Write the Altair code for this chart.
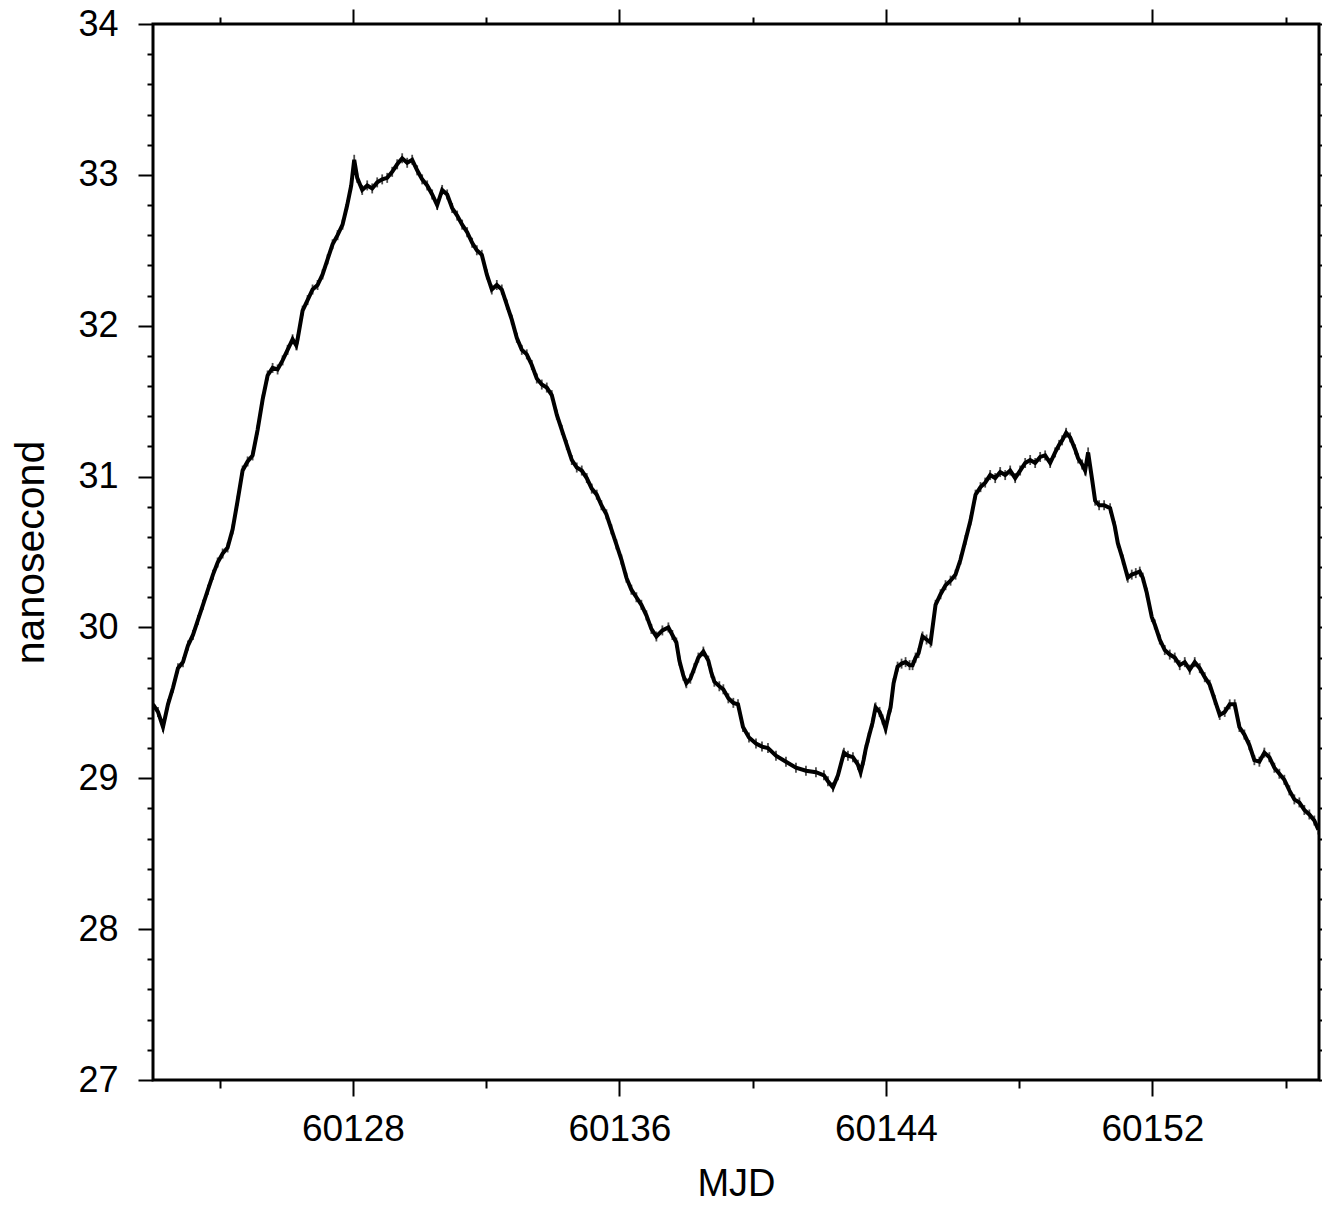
import altair as alt
import pandas as pd

mjd = [
    60122.00, 60122.15, 60122.30, 60122.45, 60122.60, 60122.75, 60122.90, 60123.05, 60123.20, 60123.35,
    60123.50, 60123.65, 60123.80, 60123.94, 60124.09, 60124.24, 60124.39, 60124.54, 60124.69, 60124.84,
    60124.99, 60125.14, 60125.29, 60125.44, 60125.59, 60125.74, 60125.89, 60126.04, 60126.19, 60126.30,
    60126.34, 60126.49, 60126.64, 60126.79, 60126.94, 60127.09, 60127.24, 60127.39, 60127.54, 60127.69,
    60127.83, 60127.95, 60128.04, 60128.13, 60128.28, 60128.43, 60128.58, 60128.73, 60128.88, 60129.03,
    60129.18, 60129.33, 60129.48, 60129.63, 60129.78, 60129.93, 60130.08, 60130.23, 60130.38, 60130.53,
    60130.68, 60130.83, 60130.98, 60131.13, 60131.28, 60131.43, 60131.58, 60131.72, 60131.87, 60132.02,
    60132.17, 60132.32, 60132.47, 60132.62, 60132.77, 60132.92, 60133.07, 60133.22, 60133.37, 60133.52,
    60133.67, 60133.82, 60133.97, 60134.12, 60134.27, 60134.42, 60134.57, 60134.72, 60134.87, 60135.02,
    60135.17, 60135.32, 60135.46, 60135.61, 60135.76, 60135.91, 60136.06, 60136.21, 60136.36, 60136.51,
    60136.66, 60136.81, 60136.96, 60137.11, 60137.29, 60137.47, 60137.59, 60137.71, 60137.80, 60137.92,
    60138.01, 60138.13, 60138.25, 60138.37, 60138.52, 60138.67, 60138.76, 60138.85, 60139.00, 60139.12,
    60139.27, 60139.42, 60139.56, 60139.71, 60139.89, 60140.10, 60140.28, 60140.46, 60140.70, 60141.00,
    60141.30, 60141.60, 60141.90, 60142.14, 60142.26, 60142.41, 60142.56, 60142.74, 60142.86, 60143.01,
    60143.16, 60143.24, 60143.33, 60143.39, 60143.48, 60143.60, 60143.69, 60143.81, 60143.90, 60143.99,
    60144.08, 60144.14, 60144.23, 60144.35, 60144.47, 60144.59, 60144.71, 60144.80, 60144.89, 60144.98,
    60145.10, 60145.22, 60145.34, 60145.49, 60145.64, 60145.79, 60145.94, 60146.09, 60146.24, 60146.39,
    60146.54, 60146.69, 60146.84, 60146.98, 60147.13, 60147.28, 60147.43, 60147.58, 60147.73, 60147.88,
    60148.03, 60148.18, 60148.33, 60148.48, 60148.63, 60148.78, 60148.93, 60149.08, 60149.20, 60149.29,
    60149.41, 60149.53, 60149.68, 60149.77, 60149.89, 60149.98, 60150.07, 60150.19, 60150.28, 60150.40,
    60150.55, 60150.73, 60150.87, 60150.96, 60151.11, 60151.26, 60151.38, 60151.50, 60151.62, 60151.71,
    60151.83, 60151.98, 60152.07, 60152.22, 60152.37, 60152.52, 60152.67, 60152.82, 60152.97, 60153.12,
    60153.27, 60153.42, 60153.57, 60153.72, 60153.87, 60154.02, 60154.17, 60154.32, 60154.47, 60154.61,
    60154.76, 60154.91, 60155.06, 60155.21, 60155.36, 60155.51, 60155.66, 60155.81, 60155.96, 60156.11,
    60156.26, 60156.41, 60156.56, 60156.71, 60156.86, 60156.98,
]

ns = [
    29.49, 29.44, 29.34, 29.49, 29.60, 29.73, 29.77, 29.88, 29.95, 30.05,
    30.15, 30.25, 30.35, 30.43, 30.49, 30.53, 30.65, 30.84, 31.04, 31.10,
    31.14, 31.31, 31.51, 31.67, 31.72, 31.71, 31.77, 31.84, 31.91, 31.87,
    31.91, 32.10, 32.17, 32.24, 32.27, 32.34, 32.44, 32.54, 32.60, 32.67,
    32.80, 32.93, 33.10, 32.98, 32.90, 32.93, 32.91, 32.95, 32.97, 32.98,
    33.02, 33.07, 33.11, 33.08, 33.10, 33.03, 32.97, 32.93, 32.87, 32.80,
    32.90, 32.87, 32.78, 32.73, 32.67, 32.62, 32.55, 32.50, 32.47, 32.34,
    32.24, 32.27, 32.24, 32.14, 32.04, 31.92, 31.84, 31.81, 31.74, 31.65,
    31.61, 31.59, 31.54, 31.41, 31.31, 31.21, 31.11, 31.06, 31.04, 30.99,
    30.92, 30.88, 30.81, 30.75, 30.65, 30.55, 30.45, 30.33, 30.25, 30.20,
    30.15, 30.08, 29.99, 29.94, 29.98, 30.00, 29.95, 29.90, 29.78, 29.68,
    29.63, 29.66, 29.73, 29.80, 29.84, 29.78, 29.70, 29.64, 29.61, 29.59,
    29.53, 29.50, 29.49, 29.34, 29.27, 29.23, 29.21, 29.20, 29.15, 29.11,
    29.07, 29.05, 29.04, 29.02, 28.98, 28.94, 29.02, 29.17, 29.15, 29.14,
    29.09, 29.04, 29.12, 29.19, 29.27, 29.37, 29.47, 29.44, 29.39, 29.33,
    29.42, 29.47, 29.63, 29.74, 29.76, 29.77, 29.75, 29.75, 29.80, 29.83,
    29.94, 29.92, 29.90, 30.15, 30.22, 30.28, 30.31, 30.35, 30.45, 30.58,
    30.71, 30.88, 30.93, 30.96, 31.01, 30.99, 31.03, 31.01, 31.04, 30.99,
    31.04, 31.09, 31.11, 31.09, 31.13, 31.14, 31.09, 31.16, 31.21, 31.24,
    31.29, 31.26, 31.18, 31.12, 31.08, 31.04, 31.16, 30.98, 30.84, 30.81,
    30.81, 30.79, 30.67, 30.56, 30.45, 30.33, 30.35, 30.36, 30.37, 30.33,
    30.23, 30.07, 30.02, 29.92, 29.85, 29.82, 29.80, 29.75, 29.77, 29.72,
    29.77, 29.73, 29.67, 29.62, 29.52, 29.42, 29.44, 29.49, 29.49, 29.34,
    29.29, 29.22, 29.12, 29.11, 29.17, 29.14, 29.07, 29.03, 28.99, 28.92,
    28.86, 28.84, 28.79, 28.76, 28.72, 28.66,
]

x_ticks = [60124, 60128, 60132, 60136, 60140, 60144, 60148, 60152, 60156]
y_ticks = [round(27 + 0.2 * i, 1) for i in range(36)]

df = pd.DataFrame({"mjd": mjd, "ns": ns})

FONT = "Liberation Sans"

xscale = alt.Scale(domain=[60122, 60157], nice=False, zero=False)
yscale = alt.Scale(domain=[27, 34], nice=False, zero=False)

major_x = "datum.value % 8 == 0"
major_y = "abs(datum.value - round(datum.value)) < 0.01"

x_bottom = alt.Axis(
    orient="bottom", values=x_ticks, format="d", domain=False, grid=False,
    tickColor="black", tickWidth=2,
    tickSize={"condition": {"test": major_x, "value": 16}, "value": 8},
    labelExpr=f"{major_x} ? datum.label : ''",
    labelFont=FONT, labelFontSize=37, labelColor="black", labelPadding=15,
    title="MJD", titleFont=FONT, titleFontSize=38, titleFontWeight="normal",
    titleColor="black", titlePadding=18,
)
y_left = alt.Axis(
    orient="left", values=y_ticks, domain=False, grid=False,
    tickColor="black", tickWidth=2,
    tickSize={"condition": {"test": major_y, "value": 15}, "value": 6},
    labelExpr=f"{major_y} ? format(datum.value, 'd') : ''",
    labelFont=FONT, labelFontSize=36, labelColor="black", labelPadding=20,
    title="nanosecond", titleFont=FONT, titleFontSize=41, titleFontWeight="normal",
    titleColor="black", titlePadding=25,
)
x_top = alt.Axis(
    orient="top", values=x_ticks, domain=False, grid=False, labels=False, title=None,
    tickColor="black", tickWidth=2,
    tickSize={"condition": {"test": major_x, "value": 15}, "value": 7},
)
y_right = alt.Axis(
    orient="right", values=y_ticks, domain=False, grid=False, labels=False, title=None,
    tickColor="black", tickWidth=2, tickSize=5,
)

base = alt.Chart(df)

line = base.mark_line(color="black", strokeWidth=4, clip=True).encode(
    x=alt.X("mjd:Q", scale=xscale, axis=x_bottom),
    y=alt.Y("ns:Q", scale=yscale, axis=y_left),
)
ticks = base.mark_tick(color="black", orient="vertical", size=10, thickness=1.8, clip=True).encode(
    x=alt.X("mjd:Q", scale=xscale, axis=x_bottom),
    y=alt.Y("ns:Q", scale=yscale, axis=y_left),
)
frame_axes = base.mark_point(opacity=0).encode(
    x=alt.X("mjd:Q", scale=xscale, axis=x_top),
    y=alt.Y("ns:Q", scale=yscale, axis=y_right),
)

chart = (
    alt.layer(alt.layer(line, ticks), frame_axes)
    .resolve_axis(x="independent", y="independent")
    .properties(
        width=1166, height=1056,
        autosize=alt.AutoSizeParams(type="none"),
        padding={"left": 145, "top": 16, "right": 3, "bottom": 123},
        background="white",
    )
    .configure_view(stroke="black", strokeWidth=3)
)

chart.save("out.html", embed_options={"renderer": "svg", "actions": False})
